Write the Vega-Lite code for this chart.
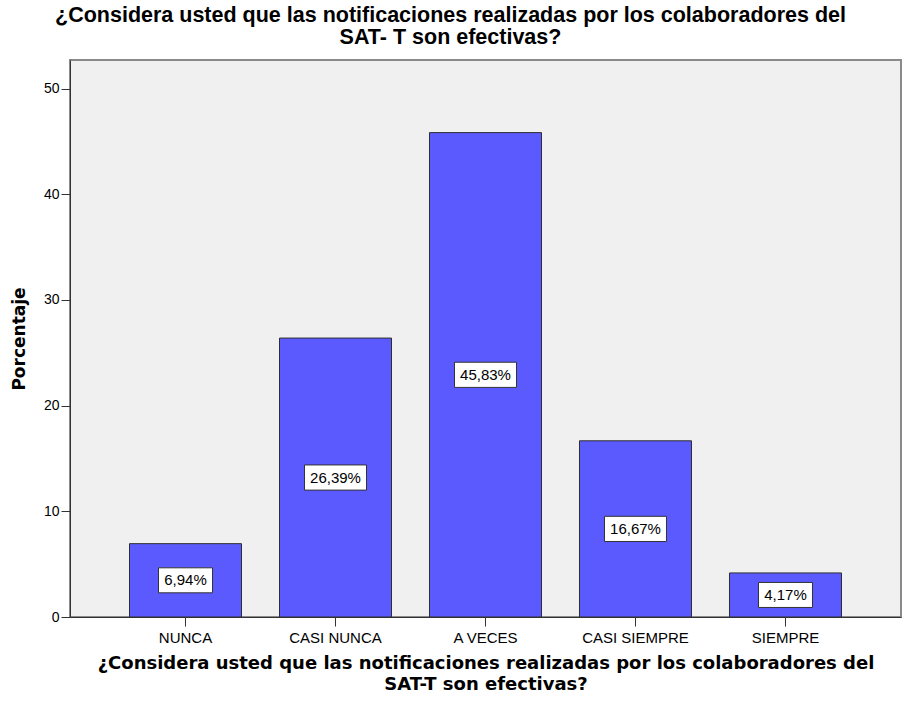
{
  "$schema": "https://vega.github.io/schema/vega-lite/v6.json",
  "width": 831,
  "height": 557,
  "autosize": {"type": "none"},
  "padding": {"left": 70, "top": 60, "right": 1, "bottom": 89},
  "background": "white",
  "title": {
    "text": ["¿Considera usted que las notificaciones realizadas por los colaboradores del", "SAT- T son efectivas?"],
    "font": "Liberation Sans",
    "fontSize": 21.5,
    "fontWeight": "bold",
    "color": "black",
    "anchor": "middle",
    "dx": -35,
    "offset": 12,
    "lineHeight": 22
  },
  "data": {
    "values": [
      {"categoria": "NUNCA", "pct": 6.94},
      {"categoria": "CASI NUNCA", "pct": 26.39},
      {"categoria": "A VECES", "pct": 45.83},
      {"categoria": "CASI SIEMPRE", "pct": 16.67},
      {"categoria": "SIEMPRE", "pct": 4.17}
    ]
  },
  "transform": [
    {"calculate": "datum.pct / 2", "as": "mid"},
    {"calculate": "replace(format(datum.pct, '.2f'), '.', ',') + '%'", "as": "etiqueta"}
  ],
  "encoding": {
    "x": {
      "field": "categoria",
      "type": "nominal",
      "sort": null,
      "scale": {"paddingInner": 0.2533, "paddingOuter": 0.3967},
      "axis": {
        "title": ["¿Considera usted que las notificaciones realizadas por los colaboradores del", "SAT-T son efectivas?"],
        "titleFont": "DejaVu Sans",
        "titleFontSize": 18,
        "titleFontWeight": "bold",
        "titleColor": "black",
        "titleLineHeight": 21,
        "titlePadding": 9,
        "labelAngle": 0,
        "labelFont": "Liberation Sans",
        "labelFontSize": 15,
        "labelColor": "black",
        "labelPadding": 4,
        "tickSize": 9,
        "tickColor": "#333333",
        "domainColor": "#333333",
        "grid": false
      }
    }
  },
  "layer": [
    {
      "mark": {"type": "bar", "color": "#5a5aff", "stroke": "#2e2e2e", "strokeWidth": 1},
      "encoding": {
        "y": {
          "field": "pct",
          "type": "quantitative",
          "scale": {"domain": [0, 52.7], "nice": false},
          "axis": {
            "values": [0, 10, 20, 30, 40, 50],
            "title": "Porcentaje",
            "titleFont": "DejaVu Sans",
            "titleFontSize": 17,
            "titleFontWeight": "bold",
            "titleColor": "black",
            "titlePadding": 15,
            "labelFont": "Liberation Sans",
            "labelFontSize": 14,
            "labelColor": "black",
            "labelPadding": 2,
            "tickSize": 9,
            "tickColor": "#333333",
            "domainColor": "#333333",
            "grid": false
          }
        }
      }
    },
    {
      "mark": {"type": "point", "filled": true, "fill": "white", "stroke": "#333333", "strokeWidth": 1, "opacity": 1},
      "encoding": {
        "y": {"field": "mid", "type": "quantitative"},
        "shape": {
          "condition": {"test": "datum.pct < 10", "value": "M-1,-0.463L1,-0.463L1,0.463L-1,0.463Z"},
          "value": "M-1,-0.406L1,-0.406L1,0.406L-1,0.406Z"
        },
        "size": {
          "condition": {"test": "datum.pct < 10", "value": 2916},
          "value": 3844
        }
      }
    },
    {
      "mark": {"type": "text", "font": "Liberation Sans", "fontSize": 15, "color": "black", "align": "center", "baseline": "middle"},
      "encoding": {
        "y": {"field": "mid", "type": "quantitative"},
        "text": {"field": "etiqueta", "type": "nominal"}
      }
    }
  ],
  "config": {
    "view": {"fill": "#f0f0f0", "stroke": "#8a8a8a", "strokeWidth": 2}
  }
}
